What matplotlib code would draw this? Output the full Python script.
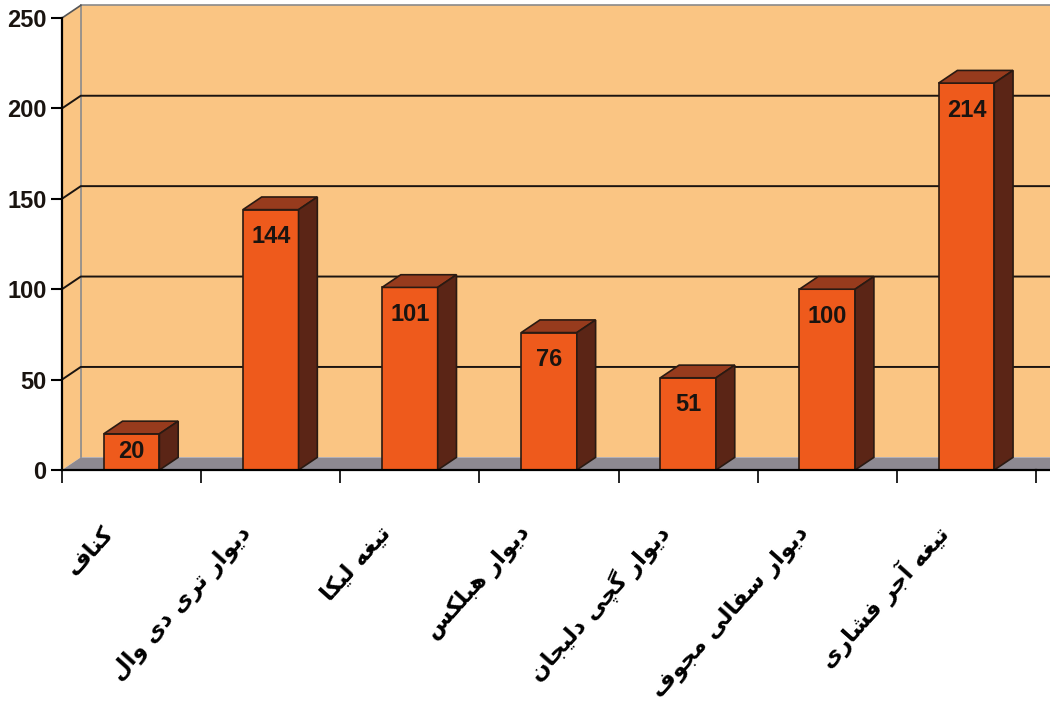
import matplotlib

matplotlib.use("Agg")

import matplotlib.pyplot as plt
from matplotlib.patches import Polygon, Rectangle

# data
categories = [
    "کناف",
    "دیوار تری دی وال",
    "تیغه لیکا",
    "دیوار هبلکس",
    "دیوار گچی دلیجان",
    "دیوار سفالی مجوف",
    "تیغه آجر فشاری",
]
values = [20, 144, 101, 76, 51, 100, 214]
y_ticks = [0, 50, 100, 150, 200, 250]

WALL = "#FAC583"
FLOOR = "#8D8991"
FRONT = "#EE5A1C"
TOP = "#973B1D"
SIDE = "#5B2516"
EDGE = "#2A1A12"

DX, DY = 0.135, 7.0   # depth offset (x in category units, y in value units)
BAR_W = 0.40
X_END = 7.3

# presentation forms: isolated, final, initial, medial
FORMS = {
    "ا": ("\uFE8D", "\uFE8E", None, None),
    "آ": ("\uFE81", "\uFE82", None, None),
    "ب": ("\uFE8F", "\uFE90", "\uFE91", "\uFE92"),
    "ت": ("\uFE95", "\uFE96", "\uFE97", "\uFE98"),
    "ج": ("\uFE9D", "\uFE9E", "\uFE9F", "\uFEA0"),
    "چ": ("\uFB7A", "\uFB7B", "\uFB7C", "\uFB7D"),
    "د": ("\uFEA9", "\uFEAA", None, None),
    "ر": ("\uFEAD", "\uFEAE", None, None),
    "س": ("\uFEB1", "\uFEB2", "\uFEB3", "\uFEB4"),
    "ش": ("\uFEB5", "\uFEB6", "\uFEB7", "\uFEB8"),
    "غ": ("\uFECD", "\uFECE", "\uFECF", "\uFED0"),
    "ف": ("\uFED1", "\uFED2", "\uFED3", "\uFED4"),
    "ک": ("\uFB8E", "\uFB8F", "\uFB90", "\uFB91"),
    "گ": ("\uFB92", "\uFB93", "\uFB94", "\uFB95"),
    "ل": ("\uFEDD", "\uFEDE", "\uFEDF", "\uFEE0"),
    "م": ("\uFEE1", "\uFEE2", "\uFEE3", "\uFEE4"),
    "ن": ("\uFEE5", "\uFEE6", "\uFEE7", "\uFEE8"),
    "ه": ("\uFEE9", "\uFEEA", "\uFEEB", "\uFEEC"),
    "و": ("\uFEED", "\uFEEE", None, None),
    "ی": ("\uFBFC", "\uFBFD", "\uFBFE", "\uFBFF"),
}


def shape(text):
    out = []
    for i, c in enumerate(text):
        if c not in FORMS:
            out.append(c)
            continue
        prev = text[i - 1] if i > 0 else None
        nxt = text[i + 1] if i + 1 < len(text) else None
        jp = prev in FORMS and FORMS[prev][2] is not None
        jn = nxt in FORMS and FORMS[c][2] is not None
        f = FORMS[c]
        if jp and jn:
            out.append(f[3])
        elif jp:
            out.append(f[1])
        elif jn:
            out.append(f[2])
        else:
            out.append(f[0])
    return "".join(out)[::-1]


fig = plt.figure(figsize=(10.5, 7.02), dpi=100, facecolor="white")
ax = fig.add_axes([62 / 1050, 1 - 470 / 702, 974 / 1050, 452 / 702])
ax.set_xlim(0, 7)
ax.set_ylim(0, 250)
ax.patch.set_visible(False)

# walls and floor
ax.add_patch(Rectangle((DX, DY), X_END, 250, facecolor=WALL, edgecolor="none", clip_on=False, zorder=0))
ax.add_patch(Polygon([(0, 0), (DX, DY), (DX, 250 + DY), (0, 250)], closed=True,
                     facecolor=WALL, edgecolor="none", clip_on=False, zorder=0))
ax.add_patch(Polygon([(0, 0), (X_END, 0), (X_END + DX, DY), (DX, DY)], closed=True,
                     facecolor=FLOOR, edgecolor="none", clip_on=False, zorder=1))
ax.plot([DX, X_END + 0.2], [250 + DY, 250 + DY], color="#8a8a8a", lw=1.2, clip_on=False, zorder=1)
ax.plot([DX, DX], [DY, 250 + DY], color="#8a8a8a", lw=1.2, clip_on=False, zorder=1)
ax.plot([0, DX], [250, 250 + DY], color="#555555", lw=1.2, clip_on=False, zorder=1)

for t in y_ticks[1:-1]:
    ax.plot([0, DX, X_END + 0.2], [t, t + DY, t + DY], color="#1a1410", lw=1.4,
            clip_on=False, zorder=1)

# bars
for i, v in enumerate(values):
    x0 = i + 0.5 - BAR_W / 2
    x1 = x0 + BAR_W
    ax.bar(i + 0.5, v, width=BAR_W, color=FRONT, edgecolor=EDGE, linewidth=1.2, zorder=3)
    ax.add_patch(Polygon([(x0, v), (x1, v), (x1 + DX, v + DY), (x0 + DX, v + DY)], closed=True,
                         facecolor=TOP, edgecolor=EDGE, linewidth=1.2, zorder=3))
    ax.add_patch(Polygon([(x1, 0), (x1 + DX, DY), (x1 + DX, v + DY), (x1, v)], closed=True,
                         facecolor=SIDE, edgecolor=EDGE, linewidth=1.2, zorder=3))
    ax.text(i + 0.5, max(v - 15, v / 2), str(v), ha="center", va="center", fontsize=17,
            fontweight="bold", family="Liberation Sans", color="#1a1410", zorder=4)

# axes
for s in ["top", "right"]:
    ax.spines[s].set_visible(False)
ax.spines["left"].set_linewidth(1.6)
ax.spines["bottom"].set_linewidth(1.6)
ax.spines["left"].set_zorder(5)
ax.spines["bottom"].set_zorder(5)
ax.plot([7, X_END + 0.2], [0, 0], color="black", lw=1.6, clip_on=False, zorder=5)

ax.set_yticks(y_ticks)
ax.set_yticklabels([str(t) for t in y_ticks], fontsize=17, fontweight="bold",
                   family="Liberation Sans", color="#1a1410")
ax.set_xticks(range(8))
ax.set_xticklabels([""] * 8)
ax.tick_params(axis="y", direction="out", length=8, width=1.5, pad=3)
ax.tick_params(axis="x", direction="out", length=9, width=1.2)

for i, name in enumerate(categories):
    ax.text(i + 0.5 - 0.16, -33, shape(name), rotation=48, rotation_mode="anchor",
            ha="right", va="center", fontsize=16.5, fontweight="bold", family="DejaVu Sans",
            color="black", clip_on=False)

fig.savefig("out.png", dpi=100, facecolor="white")
